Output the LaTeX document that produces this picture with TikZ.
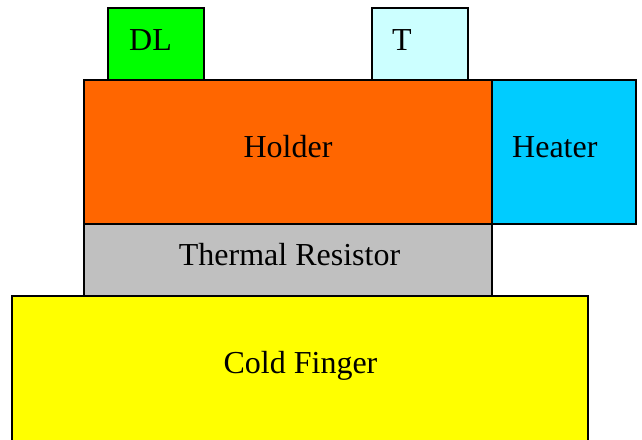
\documentclass[tikz,border=0pt]{standalone}
\usepackage{fontspec}
\setmainfont{Liberation Serif}
\definecolor{dlgreen}{HTML}{00FF00}
\definecolor{tcyan}{HTML}{CCFFFF}
\definecolor{holderorange}{HTML}{FF6600}
\definecolor{heaterblue}{HTML}{00CCFF}
\definecolor{resgray}{HTML}{C0C0C0}
\definecolor{coldyellow}{HTML}{FFFF00}
\tikzset{
  part/.style={draw=black, line width=1.5pt, anchor=north west, inner sep=0pt, outer sep=0pt},
  lbl/.style={inner sep=0pt, font=\fontsize{32}{38}\selectfont, text=black}
}
\begin{document}
\begin{tikzpicture}[x=1pt,y=-1pt]
\useasboundingbox (0,0) rectangle (642,439);
\begin{scope}
\clip (0,0) rectangle (642,439);
\node[part, fill=coldyellow, minimum width=576pt, minimum height=160pt] (cold) at (12,296) {};
\node[part, fill=resgray, minimum width=408pt, minimum height=72pt] (res) at (84,224) {};
\node[part, fill=holderorange, minimum width=408pt, minimum height=144pt] (holder) at (84,80) {};
\node[part, fill=heaterblue, minimum width=144pt, minimum height=144pt] (heater) at (492,80) {};
\node[part, fill=dlgreen, minimum width=96pt, minimum height=72pt] (dl) at (108,8) {};
\node[part, fill=tcyan, minimum width=96pt, minimum height=72pt] (t) at (372,8) {};
\end{scope}
\node[lbl, anchor=base west] (dltxt) at (129,50) {DL};
\node[lbl, anchor=base west] (ttxt) at (392,50) {T};
\node[lbl, anchor=base] (holdertxt) at (288,157) {Holder};
\node[lbl, anchor=base west] (heatertxt) at (512,157) {Heater};
\node[lbl, anchor=base] (restxt) at (289.5,265) {Thermal Resistor};
\node[lbl, anchor=base] (coldtxt) at (300.5,373) {Cold Finger};
\end{tikzpicture}
\end{document}
